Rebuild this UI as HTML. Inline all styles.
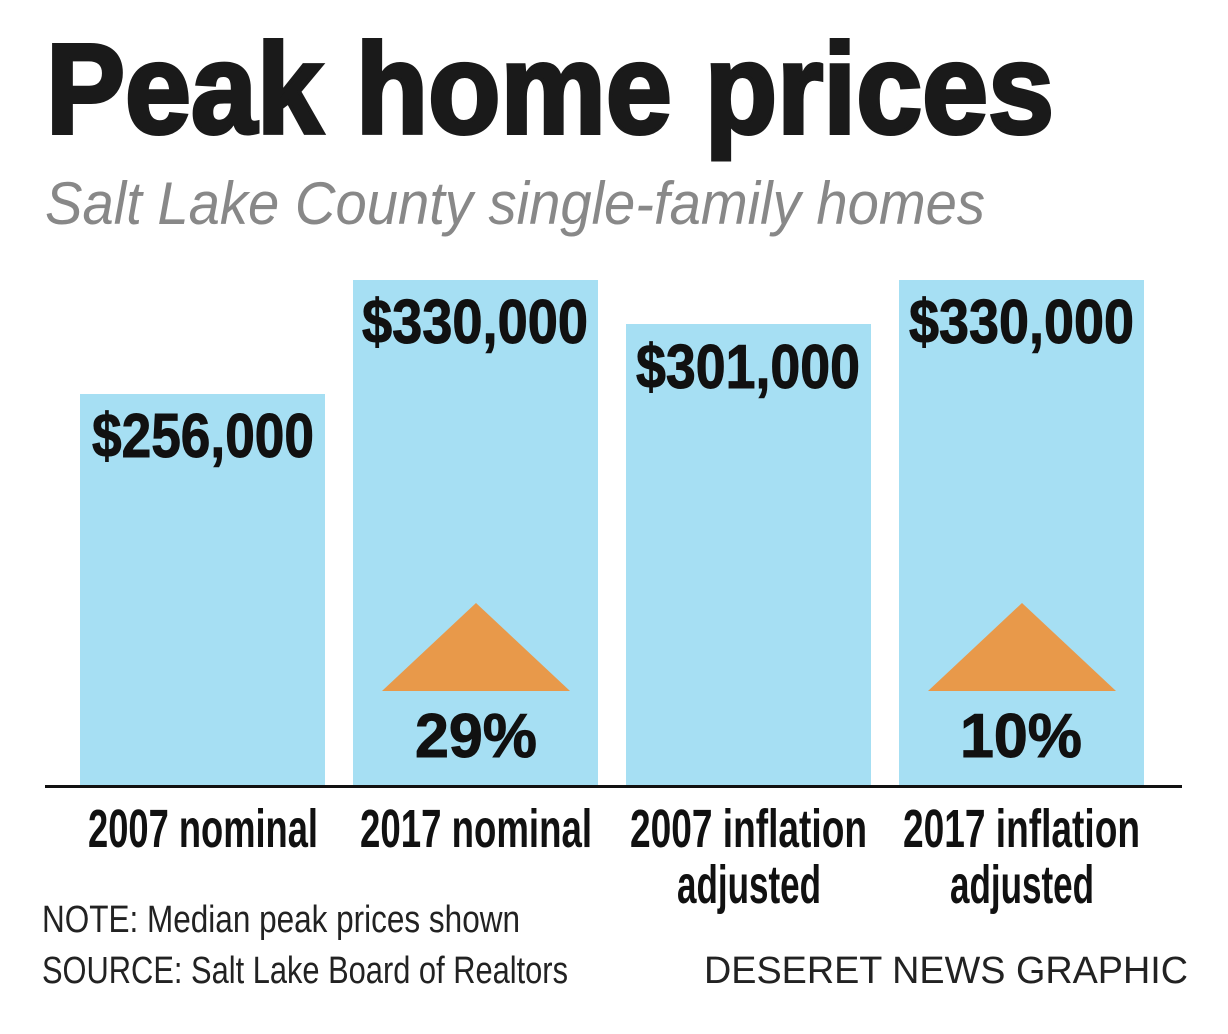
<!DOCTYPE html>
<html><head><meta charset="utf-8"><style>
html,body{margin:0;padding:0;background:#fff}
svg{display:block}
text{font-family:"Liberation Sans",sans-serif}
</style></head><body>
<svg width="1228" height="1034" viewBox="0 0 1228 1034" xmlns="http://www.w3.org/2000/svg">
<rect width="1228" height="1034" fill="#fff"/>
<text x="46" y="133" font-size="128" font-weight="bold" fill="#1a1a1a" stroke="#1a1a1a" stroke-width="4" textLength="1008" lengthAdjust="spacingAndGlyphs">Peak home prices</text>
<text x="45" y="224" font-size="60" font-style="italic" fill="#888" textLength="940" lengthAdjust="spacingAndGlyphs">Salt Lake County single-family homes</text>
<g fill="#a6dff3">
<rect x="80" y="394" width="245" height="392"/>
<rect x="353" y="280" width="245" height="506"/>
<rect x="626" y="324" width="245" height="462"/>
<rect x="899" y="280" width="245" height="506"/>
</g>
<rect x="45" y="785" width="1137" height="3" fill="#111"/>
<g font-size="62" font-weight="bold" fill="#111" stroke="#111" stroke-width="1">
<text x="92" y="457" textLength="222" lengthAdjust="spacingAndGlyphs">$256,000</text>
<text x="362" y="343" textLength="226" lengthAdjust="spacingAndGlyphs">$330,000</text>
<text x="636" y="388" textLength="224" lengthAdjust="spacingAndGlyphs">$301,000</text>
<text x="909" y="343" textLength="225" lengthAdjust="spacingAndGlyphs">$330,000</text>
<text x="415" y="757" textLength="122" lengthAdjust="spacingAndGlyphs">29%</text>
<text x="960" y="757" textLength="122" lengthAdjust="spacingAndGlyphs">10%</text>
</g>
<g fill="#e8994a">
<polygon points="476,603 570,691 382,691"/>
<polygon points="1022,603 1116,691 928,691"/>
</g>
<g font-size="54" font-weight="bold" fill="#111">
<text x="88" y="847" textLength="230" lengthAdjust="spacingAndGlyphs">2007 nominal</text>
<text x="360" y="847" textLength="232" lengthAdjust="spacingAndGlyphs">2017 nominal</text>
<text x="630" y="847" textLength="237" lengthAdjust="spacingAndGlyphs">2007 inflation</text>
<text x="677" y="903" textLength="144" lengthAdjust="spacingAndGlyphs">adjusted</text>
<text x="903" y="847" textLength="237" lengthAdjust="spacingAndGlyphs">2017 inflation</text>
<text x="950" y="903" textLength="144" lengthAdjust="spacingAndGlyphs">adjusted</text>
</g>
<g font-size="38" fill="#222">
<text x="42" y="932" textLength="478" lengthAdjust="spacingAndGlyphs">NOTE: Median peak prices shown</text>
<text x="42" y="983" textLength="526" lengthAdjust="spacingAndGlyphs">SOURCE: Salt Lake Board of Realtors</text>
<text x="704" y="983" textLength="484" lengthAdjust="spacingAndGlyphs">DESERET NEWS GRAPHIC</text>
</g>
</svg>
</body></html>
